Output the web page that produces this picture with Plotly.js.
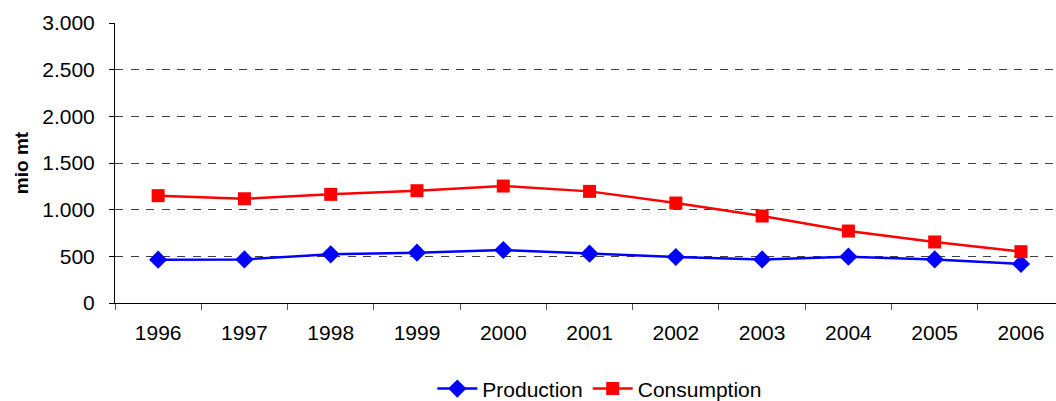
<!DOCTYPE html>
<html>
<head>
<meta charset="utf-8">
<script src="https://cdn.plot.ly/plotly-3.0.1.min.js"></script>
<style>
html,body{margin:0;padding:0;background:#fff;}
#chart{width:1056px;height:401px;}
</style>
</head>
<body>
<div id="chart"></div>
<script>
var years = ["1996","1997","1998","1999","2000","2001","2002","2003","2004","2005","2006"];
var production = [464, 467, 521, 539, 568, 528, 493, 467, 496, 467, 418];
var consumption = [1150, 1117, 1164, 1203, 1253, 1196, 1071, 932, 771, 654, 550];
var yTicks = [0, 500, 1000, 1500, 2000, 2500, 3000];

var font = "Arial, 'Liberation Sans', sans-serif";

var traces = [
  {
    x: years, y: production, name: "Production", type: "scatter", mode: "lines+markers",
    line: {color: "#0000FF", width: 2.5},
    marker: {symbol: "diamond", size: 14, color: "#0000FF"}
  },
  {
    x: years, y: consumption, name: "Consumption", type: "scatter", mode: "lines+markers",
    line: {color: "#FF0000", width: 2.5},
    marker: {symbol: "square", size: 13, color: "#FF0000"}
  }
];

var layout = {
  width: 1056, height: 401,
  margin: {l: 115, r: 0, t: 23, b: 98},
  paper_bgcolor: "#fff", plot_bgcolor: "#fff",
  separators: ",.",
  font: {family: font, size: 21, color: "#000"},
  showlegend: true,
  legend: {
    orientation: "h", xref: "container", yref: "container",
    x: 0.568, xanchor: "center", y: 0.03, yanchor: "middle",
    font: {family: font, size: 21, color: "#000"},
    itemwidth: 40, tracegroupgap: 0
  },
  xaxis: {
    type: "category",
    range: [-0.5, 10.406],
    showline: true, linecolor: "#000", linewidth: 1,
    showgrid: false, zeroline: false,
    ticks: "outside", tickson: "boundaries", ticklen: 6, tickcolor: "#555", tickwidth: 1,
    tickfont: {family: font, size: 21, color: "#000"},
    ticklabelstandoff: 11,
    fixedrange: true
  },
  yaxis: {
    range: [0, 3000],
    tickvals: yTicks,
    tickformat: ",.0f",
    showline: true, linecolor: "#000", linewidth: 1,
    showgrid: true, gridcolor: "#404040", gridwidth: 1, griddash: "8px,7.5px",
    zeroline: false,
    ticks: "outside", ticklen: 5, tickcolor: "#000",
    tickfont: {family: font, size: 21, color: "#000"},
    ticklabelstandoff: 10,
    title: {text: "mio mt", font: {family: font, size: 19, color: "#000", weight: "bold"}, standoff: 8},
    fixedrange: true
  }
};

Plotly.newPlot("chart", traces, layout, {displayModeBar: false, staticPlot: true});
</script>
</body>
</html>
